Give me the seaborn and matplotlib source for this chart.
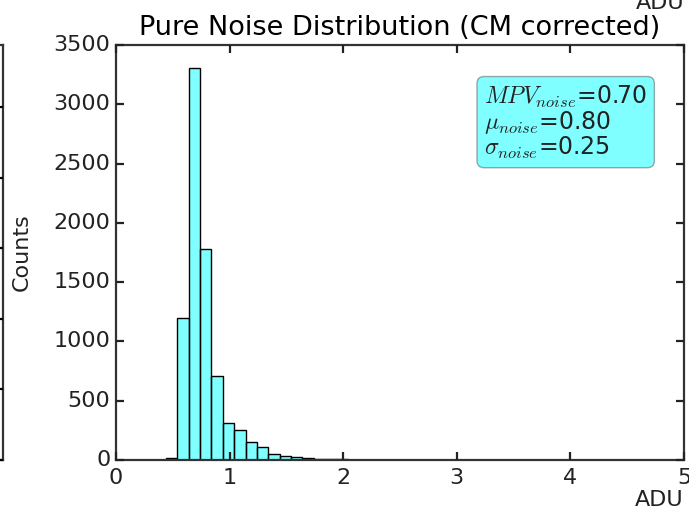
import numpy as np
import matplotlib
matplotlib.use("Agg")
import matplotlib.pyplot as plt
import seaborn as sns

# ---- data ----
bin_edges = [round(0.04 + 0.1 * k, 2) for k in range(51)]
counts = [0, 0, 0, 0, 20, 1200, 3310, 1780, 710, 315,
          253, 150, 107, 52, 35, 28, 18, 12, 8, 5,
          4, 3, 3, 2, 2, 2, 1, 1, 0, 1,
          0, 0, 1, 1, 1, 0, 0, 0, 0, 0,
          0, 0, 0, 0, 0, 1, 0, 0, 0, 0]
bin_centers = [round((bin_edges[i] + bin_edges[i + 1]) / 2, 3) for i in range(50)]
x_ticks = [0, 1, 2, 3, 4, 5]
y_ticks = [0, 500, 1000, 1500, 2000, 2500, 3000, 3500]
title = "Pure Noise Distribution (CM corrected)"
stats_text = "$MPV_{noise}$=0.70\n$\\mu_{noise}$=0.80\n$\\sigma_{noise}$=0.25"

plt.style.use("classic")
plt.rcParams.update({
    "figure.facecolor": "white",
    "savefig.facecolor": "white",
    "font.family": ["DejaVu Sans"],
    "mathtext.fontset": "cm",
    "axes.linewidth": 1.6,
    "axes.edgecolor": "#333333",
    "xtick.major.size": 6,
    "ytick.major.size": 6,
    "xtick.major.width": 1.6,
    "ytick.major.width": 1.6,
    "xtick.minor.visible": False,
    "ytick.minor.visible": False,
})

fig = plt.figure(figsize=(6.89, 5.12), dpi=100)
ax = fig.add_axes([116 / 689, 52 / 512, 568 / 689, 415 / 512])

sns.histplot(x=bin_centers, weights=counts, bins=bin_edges, ax=ax,
             color="cyan", alpha=0.5, edgecolor="black", linewidth=1.0)

ax.set_xlim(0, 5)
ax.set_ylim(0, 3500)
ax.set_xticks(x_ticks)
ax.set_yticks(y_ticks)
ax.tick_params(labelsize=16, colors="#222222")
ax.tick_params(axis="x", pad=6)
ax.tick_params(axis="y", pad=4)
ax.set_title(title, fontsize=19.5, pad=7)
ax.set_ylabel("Counts", fontsize=16, color="#222222")
ax.yaxis.set_label_coords(-0.148, 0.5)
ax.set_xlabel("ADU", fontsize=16, color="#222222")
ax.xaxis.set_label_coords(0.956, -0.072)

ax.text(0.648, 0.907, stats_text, transform=ax.transAxes, fontsize=17,
        ha="left", va="top", linespacing=0.95, color="#222222",
        bbox=dict(boxstyle="round,pad=0.3", facecolor="cyan", alpha=0.5,
                  edgecolor="#555555"))

# neighbouring panel edge on the left (cropped figure)
ax2 = fig.add_axes([-0.3, 52 / 512, 0.3 + 3 / 689, 415 / 512])
ax2.set_ylim(0, 5.88)
ax2.set_yticks([0, 1, 2, 3, 4, 5])
ax2.set_xticks([])
ax2.tick_params(labelleft=False, labelright=False)

# label of the panel above (cropped)
fig.text(0.923, 0.982, "ADU", fontsize=16, ha="left", va="baseline",
         color="#222222")

fig.savefig("out.png", dpi=100)
